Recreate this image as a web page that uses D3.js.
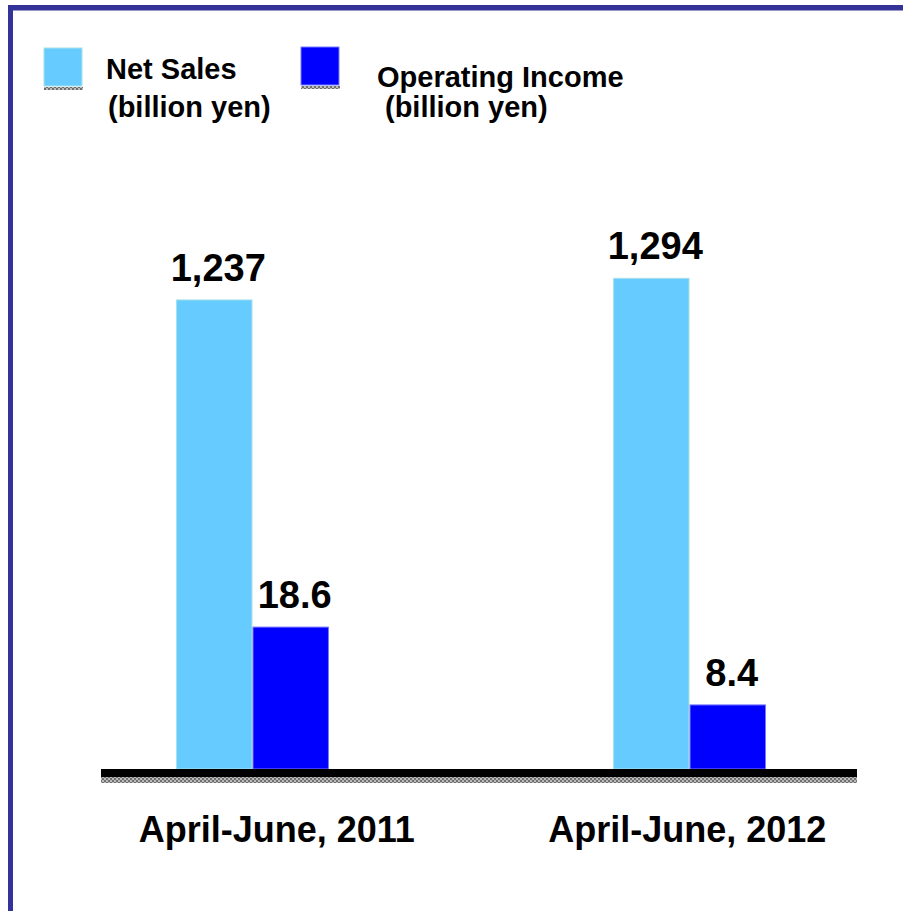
<!DOCTYPE html>
<html>
<head>
<meta charset="utf-8">
<script src="https://cdn.jsdelivr.net/npm/d3@7"></script>
<style>
  html, body { margin: 0; padding: 0; background: #fff; }
  svg { display: block; }
  text { font-family: "Liberation Sans", Arial, sans-serif; font-weight: bold; fill: #000; }
</style>
</head>
<body>
<script>
// Quarterly results: net sales and operating income (billion yen)
const periods = ["April-June, 2011", "April-June, 2012"];
const seriesNames = ["Net Sales", "Operating Income"];
const seriesUnits = ["(billion yen)", "(billion yen)"];
const netSales = [1237, 1294];
const operatingIncome = [18.6, 8.4];
const netSalesLabels = ["1,237", "1,294"];
const operatingIncomeLabels = ["18.6", "8.4"];

const W = 903, H = 911;
const colors = { sales: "#66CCFF", income: "#0000FF", frame: "#333399" };

const svg = d3.select("body").append("svg").attr("width", W).attr("height", H);

// checker pattern used for the drop shadows under the legend keys and the baseline
const defs = svg.append("defs");
const pat = defs.append("pattern").attr("id", "shade")
  .attr("width", 4).attr("height", 4).attr("patternUnits", "userSpaceOnUse");
pat.append("rect").attr("width", 4).attr("height", 4).attr("fill", "#bdbdbd");
pat.append("rect").attr("width", 2).attr("height", 2).attr("fill", "#6e6e6e");
pat.append("rect").attr("x", 2).attr("y", 2).attr("width", 2).attr("height", 2).attr("fill", "#6e6e6e");

// frame: left and top rule
svg.append("rect").attr("x", 8).attr("y", 5).attr("width", W - 8).attr("height", 5.5).attr("fill", colors.frame);
svg.append("rect").attr("x", 8).attr("y", 5).attr("width", 5).attr("height", H - 5).attr("fill", colors.frame);

// plot geometry
const plot = { left: 101, right: 857, base: 769 };

const x0 = d3.scaleBand().domain(periods)
  .range([plot.left + 75, plot.right - 91])
  .paddingInner(0.65).paddingOuter(0);
const x1 = d3.scaleBand().domain(seriesNames).range([0, x0.bandwidth()]);

// category labels sit on a slightly narrower band layout than the bars
const xLabels = x0.copy().range([plot.left + 104, plot.right - 98]);

const ySales = d3.scaleLinear().domain([0, 1300]).range([plot.base, plot.base - 1300 * 0.3792]);
const yIncome = d3.scaleLinear().domain([0, 20]).range([plot.base, plot.base - 20 * 7.63]);

const rows = periods.map((p, i) => ({
  period: p,
  bars: [
    { key: seriesNames[0], value: netSales[i], label: netSalesLabels[i], y: ySales, fill: colors.sales, stroke: "#a8e0e6" },
    { key: seriesNames[1], value: operatingIncome[i], label: operatingIncomeLabels[i], y: yIncome, fill: colors.income, stroke: "#7a7aff" }
  ]
}));

const groups = svg.selectAll("g.grp").data(rows).join("g")
  .attr("class", "grp")
  .attr("transform", d => `translate(${x0(d.period)},0)`);

groups.selectAll("rect.bar").data(d => d.bars).join("rect")
  .attr("class", "bar")
  .attr("x", d => x1(d.key) + 0.5)
  .attr("y", d => d.y(d.value))
  .attr("width", x1.bandwidth() - 1)
  .attr("height", d => plot.base - d.y(d.value))
  .attr("fill", d => d.fill)
  .attr("stroke", d => d.stroke)
  .attr("stroke-width", 1);

groups.selectAll("text.val").data(d => d.bars).join("text")
  .attr("class", "val")
  .attr("x", d => x1(d.key) + x1.bandwidth() / 2 + 4)
  .attr("y", d => d.y(d.value) - 19)
  .attr("text-anchor", "middle")
  .attr("font-size", 38)
  .text(d => d.label);

// baseline with its shaded edge
svg.append("rect").attr("x", plot.left).attr("y", plot.base).attr("width", plot.right - plot.left).attr("height", 8).attr("fill", "#000");
svg.append("rect").attr("x", plot.left).attr("y", plot.base + 8).attr("width", plot.right - plot.left).attr("height", 6).attr("fill", "url(#shade)");

// category axis labels
const xAxis = d3.axisBottom(xLabels).tickSize(0).tickPadding(0);
const axisG = svg.append("g").attr("transform", `translate(0,${plot.base + 73})`).call(xAxis);
axisG.select(".domain").remove();
axisG.selectAll("text")
  .attr("dy", 0)
  .attr("font-size", 36)
  .style("font-family", '"Liberation Sans", Arial, sans-serif')
  .style("font-weight", "bold")
  .attr("fill", "#000");

// legend
const legend = [
  { name: seriesNames[0], unit: seriesUnits[0], fill: colors.sales, stroke: "#a8e0e6", kx: 44, ky: 48, tx: 106, ty: 79, ux: 108, uy: 117 },
  { name: seriesNames[1], unit: seriesUnits[1], fill: colors.income, stroke: "#7a7aff", kx: 301, ky: 47, tx: 377, ty: 87, ux: 385, uy: 117 }
];
const lg = svg.selectAll("g.lg").data(legend).join("g").attr("class", "lg");
lg.append("rect").attr("x", d => d.kx).attr("y", d => d.ky).attr("width", 38).attr("height", 38)
  .attr("fill", d => d.fill).attr("stroke", d => d.stroke).attr("stroke-width", 1);
lg.append("rect").attr("x", d => d.kx).attr("y", d => d.ky + 39).attr("width", 39).attr("height", 3).attr("fill", "url(#shade)");
lg.append("text").attr("x", d => d.tx).attr("y", d => d.ty).attr("font-size", 29).text(d => d.name);
lg.append("text").attr("x", d => d.ux).attr("y", d => d.uy).attr("font-size", 29).text(d => d.unit);
</script>
</body>
</html>
